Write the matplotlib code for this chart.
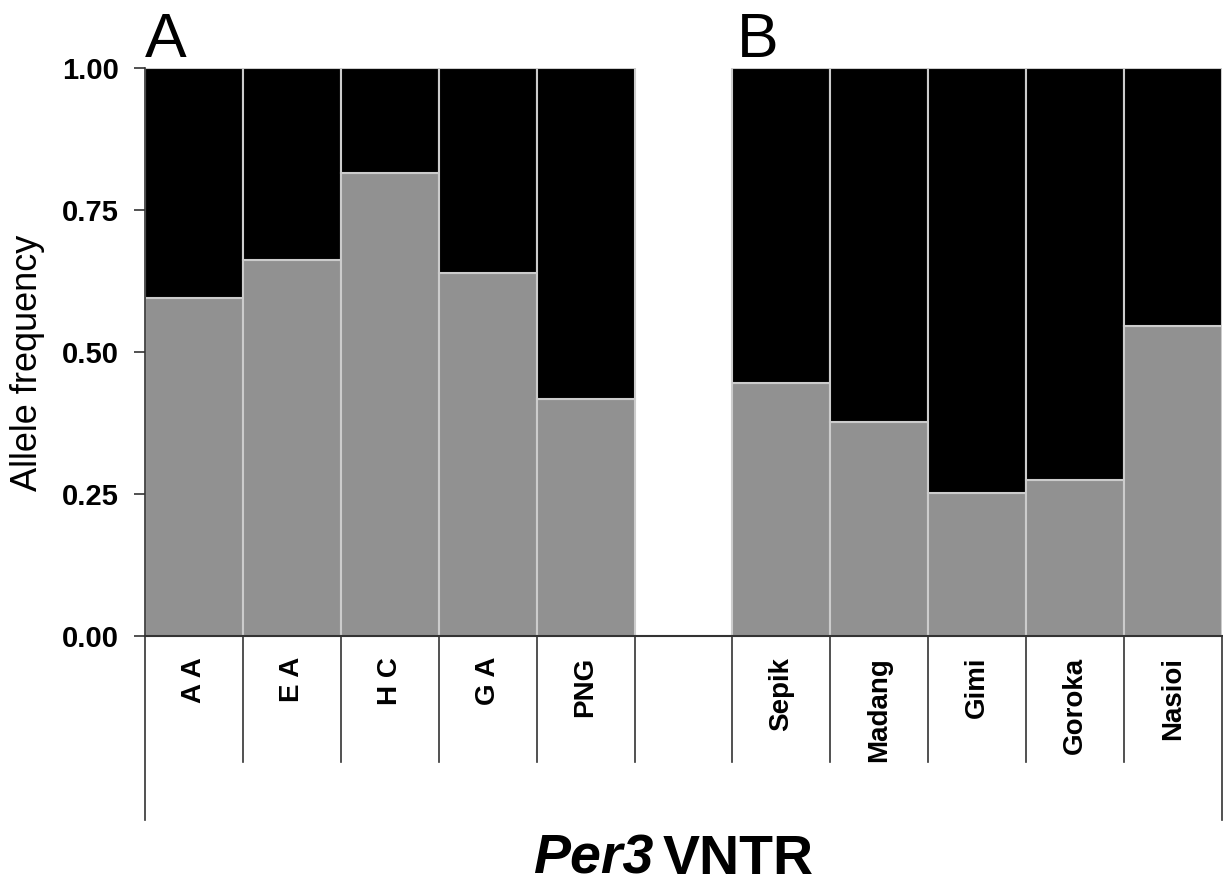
import numpy as np
import matplotlib
matplotlib.use('Agg')
import matplotlib.pyplot as plt
import matplotlib.transforms as mtransforms

plt.rcParams['font.family'] = ['Liberation Sans', 'DejaVu Sans']

# allele frequencies (lower, grey allele) for each population
groups_a = ['A A', 'E A', 'H C', 'G A', 'PNG']
freq_a = [0.595, 0.662, 0.815, 0.639, 0.417]
groups_b = ['Sepik', 'Madang', 'Gimi', 'Goroka', 'Nasioi']
freq_b = [0.445, 0.377, 0.251, 0.275, 0.546]
yticks = [0.00, 0.25, 0.50, 0.75, 1.00]

labels = groups_a + [''] + groups_b
freqs = freq_a + [np.nan] + freq_b
x = np.arange(len(labels)) + 0.5

fig = plt.figure(figsize=(12.23, 8.86), dpi=100)
ax = fig.add_axes([145 / 1223, 1 - 636 / 886, 1077 / 1223, 568 / 886])

grey = '#919191'
edge = '#cccccc'
for xi, f in zip(x, freqs):
    if np.isnan(f):
        continue
    ax.bar(xi, f, width=1.0, color=grey, edgecolor=edge, linewidth=1.5)
    ax.bar(xi, 1 - f, bottom=f, width=1.0, color='black', edgecolor=edge, linewidth=1.5)

ax.set_xlim(0, len(labels))
ax.set_ylim(0, 1)
ax.set_yticks(yticks)
ax.set_yticklabels([f'{v:.2f}' for v in yticks], fontsize=21, fontweight='bold')
ax.tick_params(axis='y', length=8, width=1.2, color='#333333', pad=11)
ax.set_xticks([])
for s in ['top', 'right']:
    ax.spines[s].set_visible(False)
ax.spines['left'].set_color('#333333')
ax.spines['left'].set_linewidth(1.2)
ax.spines['bottom'].set_color('#333333')
ax.spines['bottom'].set_linewidth(1.5)

# category table below the axis
trans = mtransforms.blended_transform_factory(ax.transData, ax.transAxes)
h_inner = -126 / 568
h_outer = -184 / 568
for i in range(len(labels) + 1):
    low = h_outer if i in (0, len(labels)) else h_inner
    ax.plot([i, i], [0, low], color='#333333', lw=1.2, transform=trans, clip_on=False)
for xi, lab in zip(x, labels):
    ax.text(xi, -21 / 568, lab, transform=trans, rotation=90, ha='center', va='top',
            fontsize=20, fontweight='bold')

fig.text(28 / 1223, 1 - 363 / 886, 'Allele frequency', rotation=90, ha='center', va='center',
         fontsize=26)
fig.text(145 / 1223, 1 - 57 / 886, 'A', fontsize=45, ha='left', va='baseline')
fig.text(737 / 1223, 1 - 57 / 886, 'B', fontsize=45, ha='left', va='baseline')

fig.text(653 / 1223, 1 - 874 / 886, 'Per3', fontsize=40, fontweight='bold', style='italic',
         ha='right', va='baseline')
fig.text(663 / 1223, 1 - 874 / 886, 'VNTR', fontsize=40, fontweight='bold',
         ha='left', va='baseline')

fig.savefig('out.png', dpi=100)
